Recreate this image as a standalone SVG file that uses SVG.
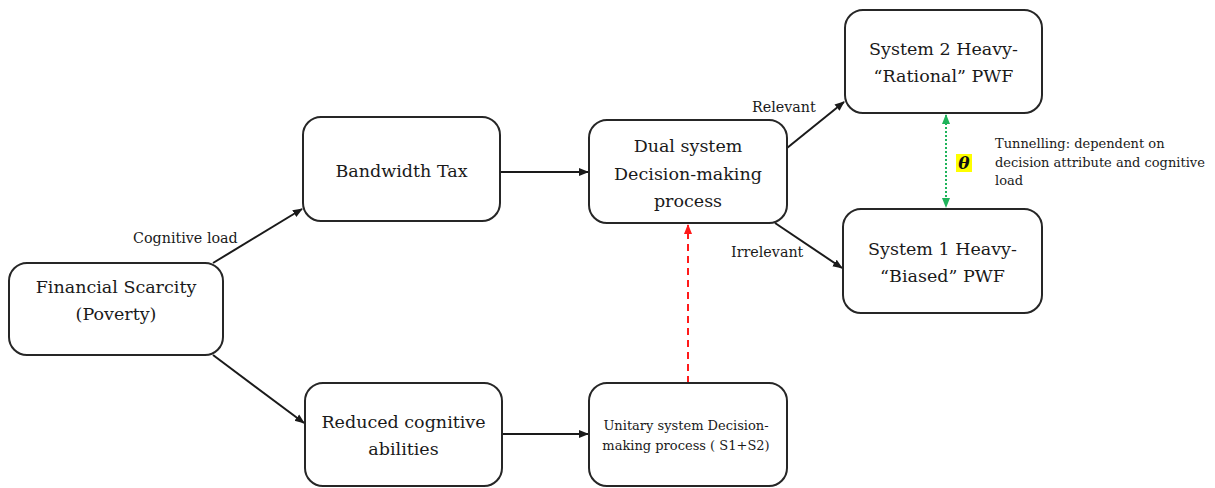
<svg xmlns="http://www.w3.org/2000/svg" width="1215" height="488" viewBox="0 0 1215 488">
  <style>
    .box { fill: #ffffff; stroke: #262626; stroke-width: 2; }
    .t { font-family: "DejaVu Serif", serif; fill: #1a1a1a; text-anchor: middle; }
    .big { font-size: 17.5px; }
    .mid { font-size: 13px; }
    .lbl { font-family: "DejaVu Serif", serif; fill: #1a1a1a; font-size: 14.3px; }
    .note { font-family: "DejaVu Serif", serif; fill: #1a1a1a; font-size: 13px; }
    .edge { fill: none; stroke: #1a1a1a; stroke-width: 2; marker-end: url(#arr); }
  </style>
  <defs>
    <marker id="arr" viewBox="0 0 10 10" refX="9" refY="5" markerWidth="5" markerHeight="5" orient="auto-start-reverse" markerUnits="strokeWidth">
      <path d="M0,1 L10,5 L0,9 z" fill="#1a1a1a"/>
    </marker>
    <marker id="arrRed" viewBox="0 0 10 10" refX="9" refY="5" markerWidth="5" markerHeight="5" orient="auto-start-reverse" markerUnits="strokeWidth">
      <path d="M0,1 L10,5 L0,9 z" fill="#ff1a1a"/>
    </marker>
    <marker id="arrGreen" viewBox="0 0 10 10" refX="9" refY="5" markerWidth="5" markerHeight="5" orient="auto-start-reverse" markerUnits="strokeWidth">
      <path d="M0,1 L10,5 L0,9 z" fill="#1fb35a"/>
    </marker>
  </defs>
  <rect width="1215" height="488" fill="#ffffff"/>

  <!-- connectors -->
  <g id="connectors">
    <line class="edge" x1="213" y1="263" x2="302" y2="209"/>
    <line class="edge" x1="213" y1="355" x2="304" y2="423"/>
    <line class="edge" x1="500" y1="172" x2="588" y2="172"/>
    <line class="edge" x1="502" y1="434" x2="588" y2="434"/>
    <line class="edge" x1="787" y1="148" x2="844" y2="102"/>
    <line class="edge" x1="775" y1="223" x2="842" y2="268"/>
    <line x1="688" y1="383" x2="688" y2="225" fill="none" stroke="#ff1a1a" stroke-width="2" stroke-dasharray="7,5" marker-end="url(#arrRed)"/>
    <line x1="946" y1="115" x2="946" y2="207" fill="none" stroke="#1fb35a" stroke-width="2" stroke-dasharray="2,2" marker-start="url(#arrGreen)" marker-end="url(#arrGreen)"/>
    <text class="lbl" x="133" y="243">Cognitive load</text>
    <text class="lbl" x="752" y="112">Relevant</text>
    <text class="lbl" x="731" y="257">Irrelevant</text>
  </g>

  <g id="financial-scarcity">
    <rect class="box" x="9" y="263" width="214" height="92" rx="18"/>
    <text class="t big" x="116" y="293">Financial Scarcity</text>
    <text class="t big" x="116" y="320">(Poverty)</text>
  </g>

  <g id="bandwidth-tax">
    <rect class="box" x="303" y="117" width="197" height="104" rx="18"/>
    <text class="t big" x="401.5" y="177">Bandwidth Tax</text>
  </g>

  <g id="reduced-cognitive">
    <rect class="box" x="305" y="383" width="197" height="103" rx="18"/>
    <text class="t big" x="403.5" y="428">Reduced cognitive</text>
    <text class="t big" x="403.5" y="455">abilities</text>
  </g>

  <g id="dual-system">
    <rect class="box" x="589" y="120" width="198" height="103" rx="18"/>
    <text class="t big" x="688" y="152">Dual system</text>
    <text class="t big" x="688" y="180">Decision-making</text>
    <text class="t big" x="688" y="207">process</text>
  </g>

  <g id="unitary-system">
    <rect class="box" x="589" y="383" width="198" height="103" rx="18"/>
    <text class="t mid" x="686" y="430">Unitary system Decision-</text>
    <text class="t mid" x="686" y="450">making process ( S1+S2)</text>
  </g>

  <g id="system2">
    <rect class="box" x="845" y="10" width="197" height="103" rx="18"/>
    <text class="t big" x="943.5" y="55">System 2 Heavy-</text>
    <text class="t big" x="943.5" y="82">“Rational” PWF</text>
  </g>

  <g id="system1">
    <rect class="box" x="843" y="209" width="199" height="104" rx="18"/>
    <text class="t big" x="942.5" y="255">System 1 Heavy-</text>
    <text class="t big" x="942.5" y="282">“Biased” PWF</text>
  </g>

  <g id="tunnelling">
    <rect x="956" y="154" width="16" height="18" fill="#ffff00"/>
    <text x="964" y="169" text-anchor="middle" font-family="DejaVu Serif, serif" font-size="17" font-weight="bold" font-style="italic" fill="#111111">θ</text>
    <text class="note" x="995" y="148">Tunnelling: dependent on</text>
    <text class="note" x="995" y="167">decision attribute and cognitive</text>
    <text class="note" x="995" y="185">load</text>
  </g>
</svg>
